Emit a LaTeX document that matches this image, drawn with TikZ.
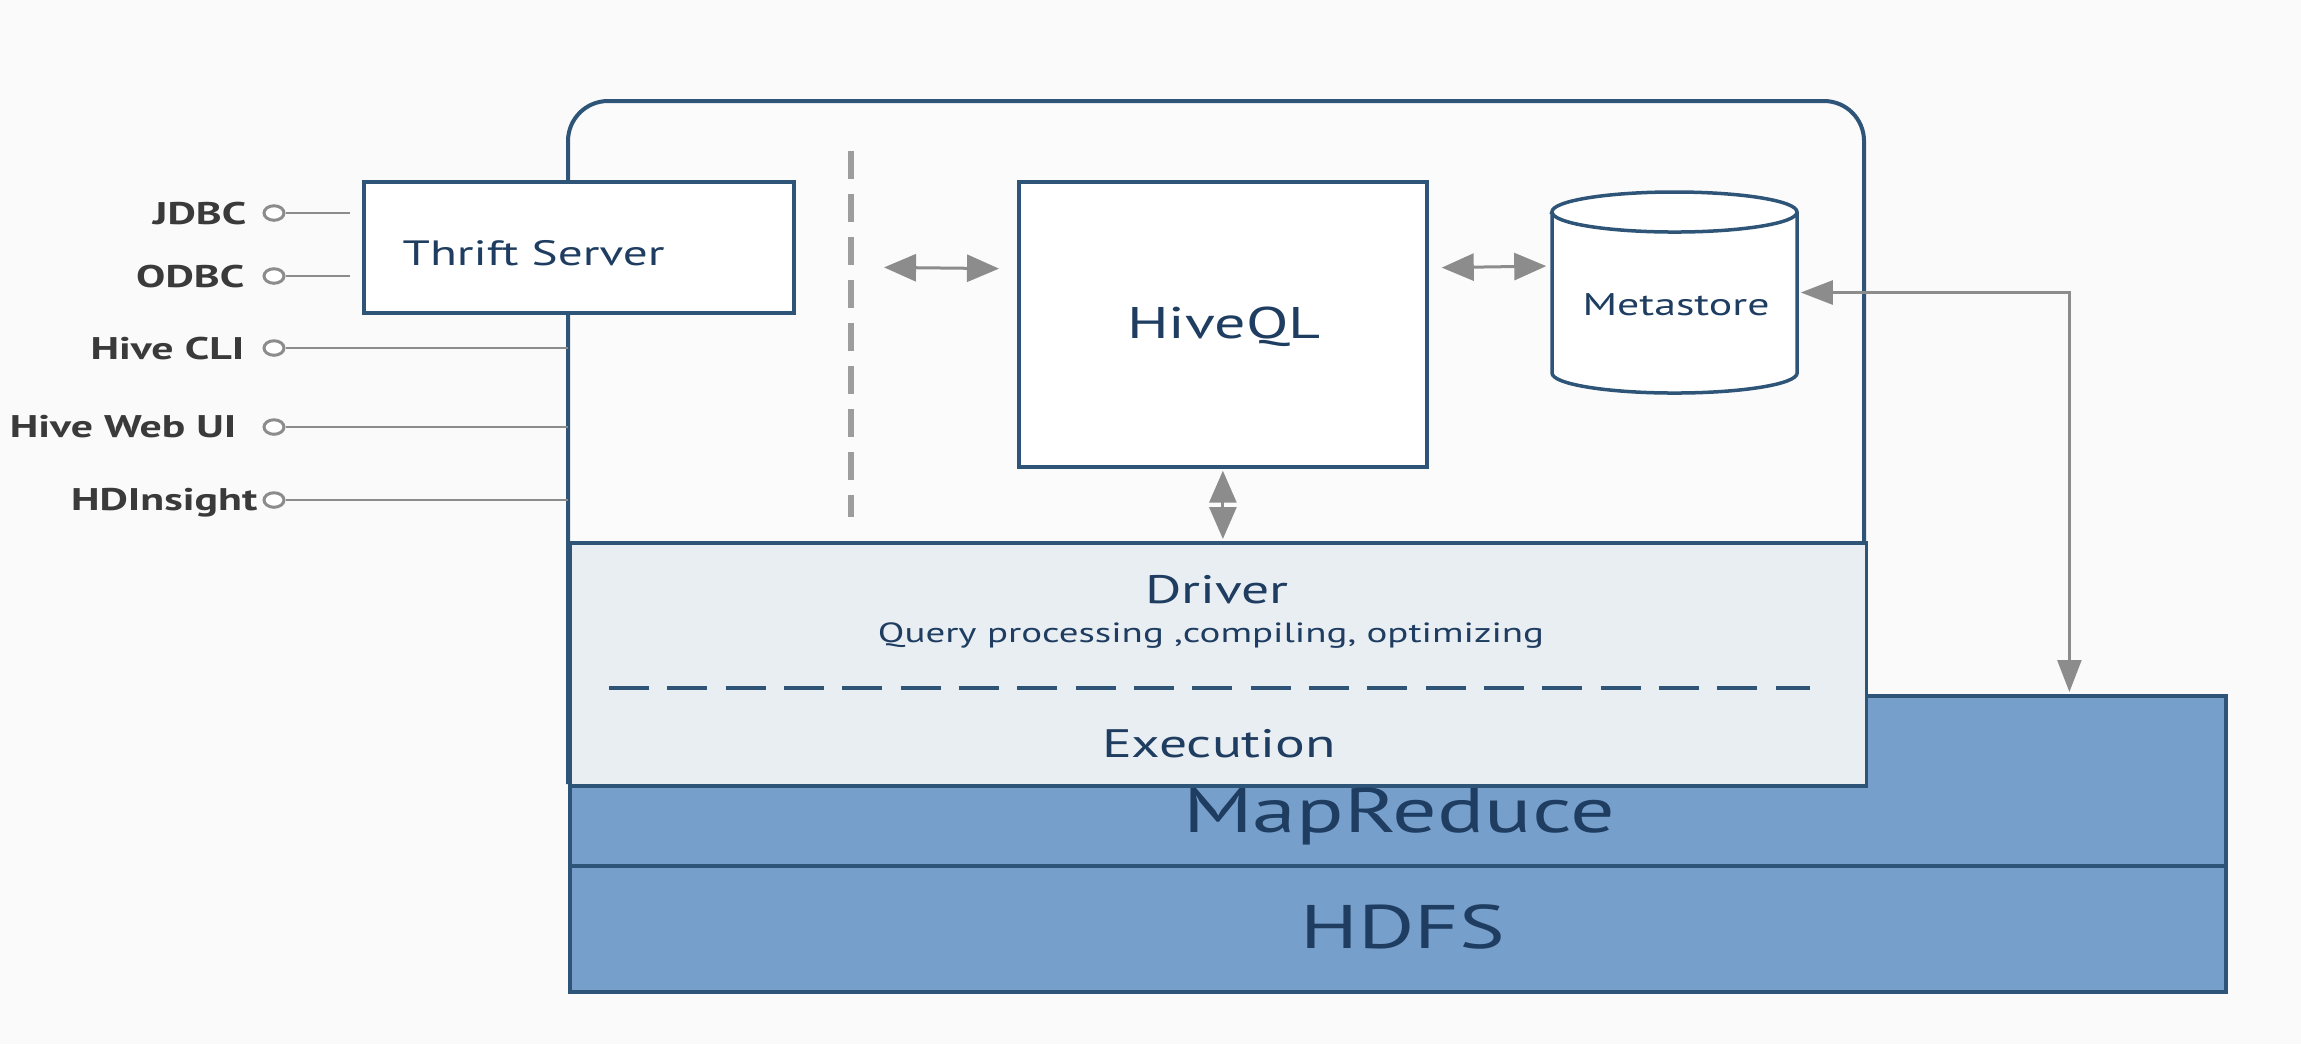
\documentclass[tikz,border=0pt]{standalone}
\usepackage{fontspec}
\setmainfont{PT Sans}[FakeStretch=1.4]
\usetikzlibrary{arrows.meta,shapes.geometric,calc}

\definecolor{pagebg}{HTML}{FAFAFA}
\definecolor{panelbg}{HTML}{FBFBFC}
\definecolor{edgeblue}{HTML}{2E5578}
\definecolor{inkblue}{HTML}{1E3D60}
\definecolor{layerblue}{HTML}{779FCB}
\definecolor{driverbg}{HTML}{E9EEF3}
\definecolor{linkgray}{HTML}{8C8C8C}
\definecolor{labelgray}{HTML}{3A3A3A}

\tikzset{
  blk/.style={draw=edgeblue, line width=0.035cm, rectangle, inner sep=0pt, anchor=north west},
  txt/.style={inner sep=0pt, anchor=base, text=inkblue},
  lbl/.style={inner sep=0pt, anchor=base east, text=labelgray, font=\fontsize{8.9}{10}\selectfont\bfseries},
  port/.style={ellipse, draw=linkgray, fill=white, line width=0.03cm, inner sep=0pt,
               minimum width=0.2cm, minimum height=0.145cm},
  wire/.style={draw=linkgray, line width=0.028cm},
  dbl/.style={draw=linkgray, line width=0.03cm,
              {Triangle[length=0.32cm,width=0.27cm]}-{Triangle[length=0.32cm,width=0.27cm]}},
  dblthin/.style={draw=linkgray, line width=0.025cm,
              {Triangle[length=0.32cm,width=0.24cm]}-{Triangle[length=0.32cm,width=0.24cm]}},
}

\begin{document}
\begin{tikzpicture}[x=0.01cm, y=-0.01cm]
\useasboundingbox (0,0) rectangle (2301,1044);
\fill[pagebg] (0,0) rectangle (2301,1044);

% storage layers
\node[blk, fill=layerblue, minimum width=16.55cm, minimum height=1.70cm] (mr) at (568,694) {};
\node[blk, fill=layerblue, minimum width=16.55cm, minimum height=1.26cm] (hdfs) at (568,864) {};

% Hive container
\draw[edgeblue, line width=0.04cm, fill=panelbg, rounded corners=0.4cm]
  (568,784) -- (568,101) -- (1864,101) -- (1864,784);

% driver band
\node[blk, fill=driverbg, minimum width=12.96cm, minimum height=2.43cm] (drv) at (568,541) {};
\draw[edgeblue, line width=0.045cm, dash pattern=on 0.40cm off 0.183cm] (609,688) -- (1810,688);

% components
\node[blk, fill=white, minimum width=4.30cm, minimum height=1.31cm] (thr) at (362,180) {};
\node[blk, fill=white, minimum width=4.08cm, minimum height=2.85cm] (hq) at (1017,180) {};

% metastore cylinder
\node[inner sep=0pt, minimum width=2.45cm, minimum height=2.01cm] (ms) at (1674.5,292.5) {};
\draw[edgeblue, line width=0.035cm, fill=white]
  (1552,212) -- (1552,373) arc[start angle=180, end angle=360, x radius=1.225cm, y radius=0.2cm]
  -- (1797,212) arc[start angle=0, end angle=180, x radius=1.225cm, y radius=0.2cm] -- cycle;
\draw[edgeblue, line width=0.035cm]
  (1552,212) arc[start angle=180, end angle=360, x radius=1.225cm, y radius=0.2cm];

% divider between the server side and the query side
\coordinate (dvtop) at (851,151);
\coordinate (dvbot) at (851,517);
\draw[linkgray!85, line width=0.06cm, dash pattern=on 0.28cm off 0.15cm] (dvtop) -- (dvbot);

% texts
\node[txt, anchor=base west, font=\fontsize{10.0}{12}\selectfont] at (402,265) {Thrift Server};
\node[txt, font=\fontsize{12.6}{14}\selectfont] at (1224,338) {HiveQL};
\node[txt, font=\fontsize{8.9}{11}\selectfont] at (1676,315) {Metastore};
\node[txt, font=\fontsize{11.3}{13}\selectfont] at (1217,603) {Driver};
\node[txt, font=\fontsize{7.9}{9}\selectfont] at (1211,642) {Query processing ,compiling, optimizing};
\node[txt, font=\fontsize{11.3}{13}\selectfont] at (1219,757) {Execution};
\node[txt, font=\fontsize{17.9}{21}\selectfont] at (1399,832) {MapReduce};
\node[txt, font=\fontsize{17.5}{21}\selectfont] at (1403,948) {HDFS};

% links between components
\draw[dbl, shorten <=0.33cm, shorten >=0.18cm]
  ($(dvtop)!0.317!(dvbot)$) -- ([yshift=0.555cm]hq.west);
\draw[dbl, shorten <=0.13cm, shorten >=0.05cm]
  ([yshift=0.565cm]hq.east) -- ([yshift=0.265cm]ms.west);
\draw[dbl, shorten <=0.02cm, shorten >=0.02cm] (hq.south) -- (hq.south |- drv.north);
\draw[dblthin, shorten <=0.03cm, shorten >=0.02cm]
  (ms.east) -| ([xshift=-1.58cm]mr.north east);

% client interfaces
\node[port] (pj) at (274,213) {};
\node[port] (po) at (274,276) {};
\node[port] (pc) at (274,348) {};
\node[port] (pw) at (274,427) {};
\node[port] (ph) at (274,500) {};
\node[lbl] at (247,224) {JDBC};
\node[lbl] at (245,287) {ODBC};
\node[lbl] at (245,359) {Hive CLI};
\node[lbl] at (237,437) {Hive Web UI};
\node[lbl] at (258,510) {HDInsight};
\draw[wire, shorten >=0.12cm] (pj) -- (pj -| thr.west);
\draw[wire, shorten >=0.12cm] (po) -- (po -| thr.west);
\draw[wire] (pc) -- (pc -| drv.west);
\draw[wire] (pw) -- (pw -| drv.west);
\draw[wire] (ph) -- (ph -| drv.west);
\end{tikzpicture}
\end{document}
